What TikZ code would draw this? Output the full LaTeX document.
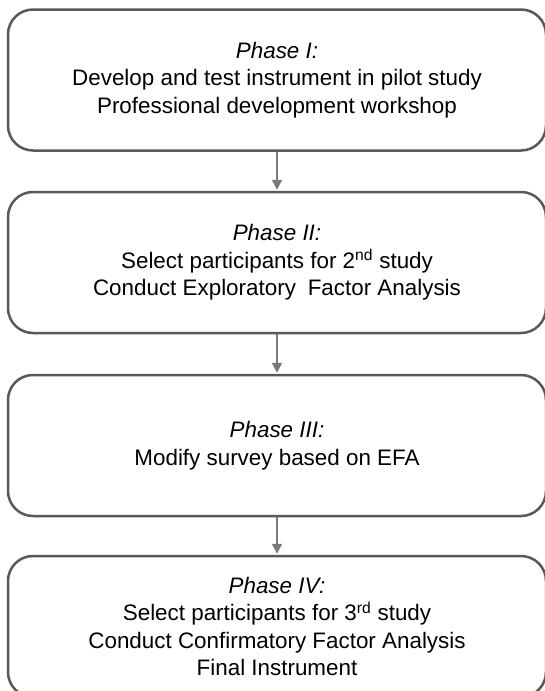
\documentclass[tikz,border=0pt]{standalone}
\usepackage{fontspec}
\setmainfont{Liberation Sans}
\usetikzlibrary{arrows.meta}
\definecolor{boxline}{HTML}{595959}
\definecolor{arrowline}{HTML}{7A7A7A}
\begin{document}
\begin{tikzpicture}[x=1pt,y=-1pt,
  phasebox/.style={draw=boxline, line width=2.5pt, rounded corners=25pt,
    minimum width=538pt, minimum height=141pt, align=center,
    font=\fontsize{22.4}{27.5}\selectfont, text=black, inner sep=0pt},
  flow/.style={draw=arrowline, line width=1.5pt,
    -{Triangle[width=10pt,length=10pt]}, shorten >=1pt}]
  \useasboundingbox (0,0) rectangle (544,691);
  \node[phasebox] (p1) at (277,80) {\textit{Phase I:}\\Develop and test instrument in pilot study\\Professional development workshop};
  \node[phasebox] (p2) at (277,262.5) {\textit{Phase II:}\\Select participants for 2\textsuperscript{nd} study\\Conduct Exploratory\hspace{0.25em} Factor Analysis};
  \node[phasebox] (p3) at (277,445.5) {\textit{Phase III:}\\Modify survey based on EFA};
  \node[phasebox] (p4) at (277,626.5) {\textit{Phase IV:}\\Select participants for 3\textsuperscript{rd} study\\Conduct Confirmatory Factor Analysis\\Final Instrument};
  \draw[flow] (p1.south) -- (p2.north);
  \draw[flow] (p2.south) -- (p3.north);
  \draw[flow] (p3.south) -- (p4.north);
\end{tikzpicture}
\end{document}
